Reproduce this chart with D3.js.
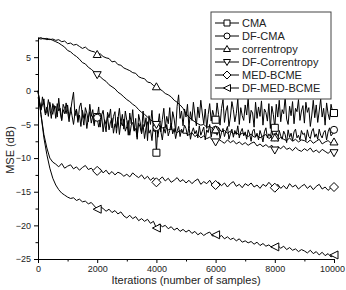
<!DOCTYPE html>
<html>
<head>
<meta charset="utf-8">
<title>MSE vs iterations</title>
<style>
  body { margin: 0; background: #fff; }
  text { font-family: "Liberation Sans", Arial, sans-serif; }
  .tick text { fill: #222; font-size: 9px; }
  .axis path, .axis line { stroke: #000; }
  .curve { fill: none; stroke: #000; stroke-width: 1; stroke-linejoin: round; }
  .mark { fill: #fff; stroke: #000; stroke-width: 1; }
</style>
</head>
<body>
<svg width="346" height="290"></svg>
<script src="https://d3js.org/d3.v7.min.js"></script>
<script>
// series names + legend order
var names = ["CMA", "DF-CMA", "correntropy", "DF-Correntropy", "MED-BCME", "DF-MED-BCME"];
var shapes = ["square", "circle", "up", "down", "diamond", "left"];

// CMA, one value every 50 iterations
var cma = [
 -1.0,-1.6,-2.9,-0.9,-2.2,-3.6,-3.0,-1.3,-2.5,-4.1,-1.9,-2.7,-2.3,-3.9,-1.1,-3.2,-4.4,-2.0,-2.6,-3.4,
 -2.1,-4.0,-3.1,-1.5,-0.2,-3.7,-2.9,-4.7,-2.4,-1.8,-3.6,-5.1,-2.5,-3.3,-4.6,-2.0,-3.8,-2.8,-4.9,-3.4,
 -3.9,-2.4,-5.4,-3.6,-2.9,-4.7,-6.1,-3.2,-4.0,-2.7,-5.5,-3.8,-3.1,-6.3,-4.2,-2.6,-4.9,-3.5,-5.7,-3.0,
 -4.4,-6.6,-3.3,-4.9,-2.8,-5.9,-4.1,-7.2,-3.5,-4.6,-6.2,-3.0,-5.3,-4.0,-7.4,-3.7,-5.0,-2.9,-6.0,-4.5,
 -9.2,-5.1,-3.4,-6.1,-4.3,-2.6,-5.4,-3.8,-4.9,-2.5,-5.7,-3.1,-4.2,-6.0,-2.3,-0.6,-4.1,-3.0,-5.2,-2.7,
 -3.9,-2.0,-5.5,-3.1,-4.4,-1.7,-3.6,-5.2,-2.4,-4.0,-1.4,-3.3,-4.9,-2.7,-5.6,-3.5,-1.9,-4.5,-2.9,-3.8,
 -4.3,-1.8,-3.5,-5.1,-2.6,-1.3,-4.7,-3.0,-2.2,-5.3,-3.9,-1.6,-2.8,-4.6,-3.4,-1.2,-5.0,-2.5,-3.7,-4.4,
 -2.1,-3.6,-1.0,-4.8,-2.9,-3.3,-5.4,-1.7,-4.1,-2.4,-3.8,-1.5,-5.1,-2.7,-3.2,-4.5,-1.9,-5.6,-2.3,-3.5,
 -5.5,-2.0,-3.9,-1.4,-4.6,-2.8,-3.4,-0.9,-4.2,-5.0,-2.3,-3.7,-1.6,-4.9,-2.6,-3.1,-1.3,-4.4,-3.0,-2.2,
 -4.8,-1.7,-3.2,-2.5,-5.3,-3.6,-1.4,-4.0,-2.1,-4.7,-3.0,-1.2,-3.9,-2.6,-5.1,-1.8,-3.4,-4.3,-2.0,-3.1,
 -3.3];

// DF-CMA, one value every 50 iterations
var dfCma = [
 0.0,-1.5,-2.8,-2.1,-1.2,-3.3,-2.4,-3.8,-1.7,-2.9,-3.5,-2.2,-4.1,-1.9,-3.0,-2.6,-4.4,-2.8,-3.4,-1.8,
 -3.1,-4.6,-2.5,-3.7,-5.0,-3.3,-2.7,-4.4,-3.6,-5.3,-2.9,-4.1,-3.4,-5.6,-4.0,-3.1,-4.8,-3.7,-5.2,-3.5,
 -4.0,-5.4,-4.5,-3.6,-6.1,-4.3,-5.0,-3.8,-5.8,-4.6,-4.1,-6.3,-4.9,-5.5,-3.9,-6.5,-4.7,-5.2,-4.2,-6.0,
 -5.3,-4.4,-6.6,-5.1,-4.7,-6.0,-5.6,-6.9,-4.8,-5.4,-6.4,-5.0,-7.1,-5.5,-4.6,-6.3,-5.8,-7.4,-5.1,-6.1,
 -5.4,-6.9,-5.2,-6.0,-7.3,-5.5,-6.3,-5.0,-6.7,-5.9,-4.8,-6.4,-5.6,-7.1,-6.0,-5.3,-6.8,-5.7,-6.2,-5.1,
 -5.6,-6.7,-5.3,-7.2,-6.1,-5.5,-6.4,-5.9,-7.0,-5.2,-6.6,-6.0,-5.4,-7.3,-5.8,-6.2,-5.0,-6.9,-5.7,-6.3,
 -5.8,-6.6,-5.4,-7.1,-6.2,-5.6,-6.8,-6.0,-5.3,-7.2,-6.4,-5.7,-6.9,-5.9,-6.5,-5.2,-7.0,-6.1,-5.6,-6.7,
 -6.1,-7.2,-5.8,-6.4,-7.5,-6.0,-5.7,-6.9,-6.3,-7.3,-5.9,-6.6,-7.6,-6.1,-5.5,-7.0,-6.4,-6.8,-5.8,-7.1,
 -6.9,-6.2,-7.5,-5.9,-6.7,-7.2,-6.0,-6.5,-7.7,-5.8,-6.9,-6.3,-7.4,-6.1,-5.7,-7.0,-6.6,-7.3,-5.9,-6.5,
 -6.3,-7.4,-5.8,-6.8,-7.1,-6.0,-5.6,-6.9,-6.4,-7.2,-5.7,-6.6,-7.0,-6.2,-5.9,-7.3,-6.1,-5.5,-6.7,-6.4,
 -5.8];

// correntropy, one value every 100 iterations
var corr = [
 7.8,7.9,7.7,7.8,7.6,7.7,7.5,7.6,7.3,7.4,
 7.0,7.1,6.8,6.9,6.6,6.3,6.5,6.1,5.9,5.8,
 5.4,5.5,5.1,4.9,4.8,4.3,4.4,3.9,3.8,3.4,
 3.2,3.0,2.7,2.6,2.1,1.9,1.8,1.3,1.2,0.8,
 0.6,0.3,0.0,-0.4,-0.6,-0.9,-1.4,-1.7,-2.1,-2.6,
 -3.4,-3.9,-4.3,-4.6,-4.9,-5.1,-5.0,-5.4,-5.3,-5.6,
 -5.8,-5.5,-6.1,-5.9,-6.3,-6.0,-6.4,-6.2,-6.6,-6.3,
 -6.5,-6.8,-6.4,-6.9,-6.6,-7.0,-6.7,-6.5,-7.1,-6.8,
 -7.0,-7.3,-6.9,-7.2,-7.4,-7.0,-7.5,-7.2,-7.6,-7.3,
 -7.4,-7.7,-7.3,-7.8,-7.5,-7.2,-7.9,-7.6,-7.4,-7.8,
 -7.6];

// DF-Correntropy, one value every 100 iterations
var dfCorr = [
 7.8,7.7,7.8,7.6,7.7,7.5,7.3,7.1,6.8,6.5,
 6.0,5.8,5.4,5.1,4.7,4.2,4.0,3.5,3.2,2.8,
 2.4,2.1,1.7,1.4,0.9,0.6,0.3,-0.2,-0.5,-0.9,
 -1.3,-1.6,-2.0,-2.3,-2.8,-3.2,-3.5,-3.9,-4.3,-4.6,
 -5.0,-5.2,-5.5,-5.4,-5.8,-5.7,-6.0,-6.2,-5.9,-6.3,
 -6.3,-6.6,-6.2,-6.8,-6.5,-7.0,-6.7,-7.1,-6.9,-7.3,
 -7.6,-7.2,-7.5,-7.8,-7.3,-7.7,-7.4,-7.9,-7.6,-8.0,
 -7.7,-8.1,-7.8,-7.6,-8.2,-7.9,-8.3,-8.0,-8.4,-8.1,
 -8.8,-8.3,-8.6,-8.2,-8.7,-8.5,-8.9,-8.4,-8.8,-9.0,
 -8.6,-8.9,-8.5,-9.1,-8.8,-9.2,-8.7,-9.0,-9.3,-8.9,
 -9.2];

// MED-BCME, one value every 100 iterations
var med = [
 0.0,-3.5,-6.5,-8.5,-10.0,-10.6,-10.9,-11.3,-10.8,-11.5,
 -11.2,-11.0,-11.6,-11.3,-11.8,-11.4,-11.1,-11.7,-11.5,-12.0,
 -11.9,-11.6,-12.2,-11.8,-12.4,-12.0,-12.5,-12.1,-12.3,-12.7,
 -12.4,-12.8,-12.2,-12.6,-12.9,-12.5,-13.1,-12.7,-13.3,-12.9,
 -13.6,-13.2,-12.8,-13.4,-13.0,-13.6,-13.3,-12.9,-13.5,-13.2,
 -13.7,-13.3,-13.8,-13.4,-13.1,-13.9,-13.5,-13.8,-13.3,-14.0,
 -14.0,-13.6,-14.1,-13.7,-14.3,-13.8,-13.5,-14.2,-13.9,-14.4,
 -13.8,-14.1,-13.7,-14.3,-14.0,-14.5,-13.9,-14.2,-13.6,-14.1,
 -14.4,-13.9,-14.5,-14.1,-14.6,-13.8,-14.3,-14.0,-14.6,-14.2,
 -13.9,-14.5,-14.1,-14.7,-14.2,-13.9,-14.6,-14.3,-14.8,-14.4,
 -14.3];

// DF-MED-BCME, one value every 100 iterations
var dfMed = [
 0.0,-3.5,-7.0,-9.5,-11.5,-13.0,-14.0,-14.7,-15.2,-15.5,
 -15.8,-16.0,-15.9,-16.3,-16.1,-16.5,-16.4,-16.8,-16.6,-17.1,
 -17.6,-17.2,-17.5,-17.9,-17.6,-18.1,-17.8,-18.3,-18.0,-18.6,
 -18.9,-18.5,-19.0,-18.7,-19.3,-19.0,-19.4,-19.1,-19.7,-19.4,
 -20.4,-19.8,-20.2,-20.0,-20.5,-20.2,-20.7,-20.4,-20.9,-20.6,
 -21.0,-20.7,-21.2,-20.9,-21.4,-21.1,-21.5,-21.2,-21.0,-21.6,
 -21.4,-21.8,-21.5,-22.0,-21.7,-22.1,-21.9,-22.3,-22.0,-22.5,
 -22.3,-22.6,-22.4,-22.8,-22.5,-23.0,-22.7,-23.1,-22.9,-23.3,
 -23.2,-23.0,-23.4,-23.1,-23.6,-23.3,-23.7,-23.5,-23.9,-23.6,
 -23.8,-24.1,-23.7,-24.2,-23.9,-24.4,-24.0,-24.5,-24.2,-24.7,
 -24.4];

var allSeries = [cma, dfCma, corr, dfCorr, med, dfMed];
var markIters = [2000, 4000, 6000, 8000, 10000];
var xTicks = [0, 2000, 4000, 6000, 8000, 10000];
var yTicks = [-25, -20, -15, -10, -5, 0, 5];

var svg = d3.select("svg");
var mLeft = 38, mRight = 334, mTop = 37, mBottom = 259;

var x = d3.scaleLinear().domain([0, 10000]).range([mLeft, mRight]);
var y = d3.scaleLinear().domain([-25, 8]).range([mBottom, mTop]);

// turn an array into points spread over 0..10000
function pts(arr) {
  var step = 10000 / (arr.length - 1);
  return arr.map(function (v, i) { return [i * step, v]; });
}

var line = d3.line()
  .x(function (d) { return x(d[0]); })
  .y(function (d) { return y(d[1]); });

// marker path for a shape at size s
function markPath(shape, s) {
  var h = s / 2;
  if (shape == "square") return "M" + (-h) + "," + (-h) + "h" + s + "v" + s + "h" + (-s) + "Z";
  if (shape == "circle") return d3.symbol(d3.symbolCircle, s * s * 0.8)();
  if (shape == "up") return "M0," + (-h - 0.5) + "L" + (h + 0.5) + "," + (h - 0.5) + "L" + (-h - 0.5) + "," + (h - 0.5) + "Z";
  if (shape == "down") return "M0," + (h + 0.5) + "L" + (h + 0.5) + "," + (-h + 0.5) + "L" + (-h - 0.5) + "," + (-h + 0.5) + "Z";
  if (shape == "diamond") return "M0," + (-h - 1) + "L" + (h + 1) + ",0L0," + (h + 1) + "L" + (-h - 1) + ",0Z";
  if (shape == "left") return "M" + (-h - 0.5) + ",0L" + (h + 0.5) + "," + (-h - 0.5) + "L" + (h + 0.5) + "," + (h + 0.5) + "Z";
}

// curves
allSeries.forEach(function (arr) {
  svg.append("path").attr("class", "curve").attr("d", line(pts(arr)));
});

// markers every 2000 iterations
allSeries.forEach(function (arr, k) {
  var step = 10000 / (arr.length - 1);
  markIters.forEach(function (it) {
    var v = arr[Math.round(it / step)];
    svg.append("path").attr("class", "mark")
      .attr("transform", "translate(" + x(it) + "," + y(v) + ")")
      .attr("d", markPath(shapes[k], 7));
  });
});

// axes
var xAxis = svg.append("g").attr("class", "axis")
  .attr("transform", "translate(0," + mBottom + ")")
  .call(d3.axisBottom(x).tickValues(xTicks).tickFormat(d3.format("d"))
    .tickSize(4).tickSizeOuter(0).tickPadding(3));
// last label sits right at the edge, nudge it in a bit
xAxis.selectAll(".tick text").filter(function (d) { return d == 10000; }).attr("dx", -2);
xAxis.selectAll("line.minor").data(d3.range(1000, 10000, 2000)).enter()
  .append("line").attr("class", "minor")
  .attr("x1", function (d) { return x(d) + 0.5; }).attr("x2", function (d) { return x(d) + 0.5; })
  .attr("y1", 0).attr("y2", 2.5).attr("stroke", "#000");

var yAxis = svg.append("g").attr("class", "axis")
  .attr("transform", "translate(" + mLeft + ",0)")
  .call(d3.axisLeft(y).tickValues(yTicks).tickFormat(d3.format("d"))
    .tickSize(4).tickSizeOuter(0).tickPadding(3));
yAxis.selectAll("line.minor").data(d3.range(-22.5, 8, 5)).enter()
  .append("line").attr("class", "minor")
  .attr("y1", function (d) { return y(d) + 0.5; }).attr("y2", function (d) { return y(d) + 0.5; })
  .attr("x1", 0).attr("x2", -2.5).attr("stroke", "#000");

// axis titles
svg.append("text").attr("x", (mLeft + mRight) / 2).attr("y", 284)
  .attr("text-anchor", "middle").attr("font-size", 11).attr("fill", "#222")
  .text("Iterations (number of samples)");
svg.append("text").attr("transform", "translate(14,150) rotate(-90)")
  .attr("text-anchor", "middle").attr("font-size", 11).attr("fill", "#222")
  .text("MSE (dB)");

// legend
var lg = svg.append("g").attr("transform", "translate(211,12)");
lg.append("rect").attr("width", 120).attr("height", 87)
  .attr("fill", "#fff").attr("stroke", "#444").attr("stroke-width", 1);
names.forEach(function (n, i) {
  var yy = 11 + i * 13;
  lg.append("line").attr("x1", 4).attr("x2", 28).attr("y1", yy).attr("y2", yy)
    .attr("stroke", "#000");
  lg.append("path").attr("class", "mark")
    .attr("transform", "translate(16," + yy + ")")
    .attr("d", markPath(shapes[i], 6));
  lg.append("text").attr("x", 31).attr("y", yy + 4).attr("font-size", 11)
    .attr("fill", "#222").text(n);
});
</script>
</body>
</html>
